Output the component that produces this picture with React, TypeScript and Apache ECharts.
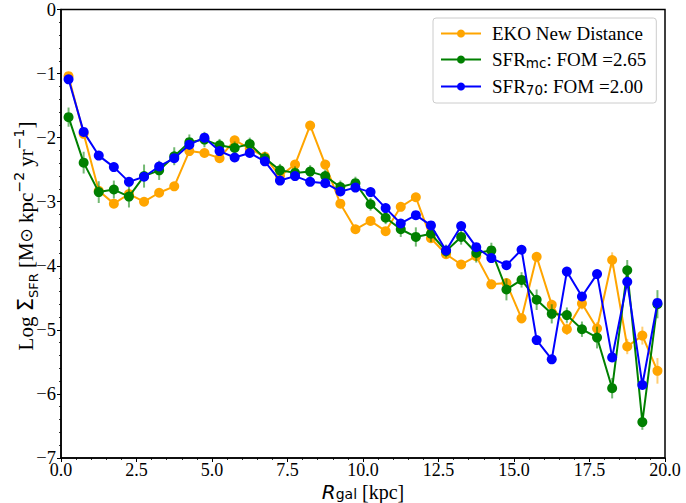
import React, { useEffect, useRef } from "react";
import * as echarts from "echarts";

const radius: number[] = [
  0.25, 0.75, 1.25, 1.75, 2.25, 2.75, 3.25, 3.75, 4.25, 4.75,
  5.25, 5.75, 6.25, 6.75, 7.25, 7.75, 8.25, 8.75, 9.25, 9.75,
  10.25, 10.75, 11.25, 11.75, 12.25, 12.75, 13.25, 13.75, 14.25, 14.75,
  15.25, 15.75, 16.25, 16.75, 17.25, 17.75, 18.25, 18.75, 19.25, 19.75,
];

const ekoNew: number[] = [
  -1.04, -1.94, -2.83, -3.03, -2.88, -3.0, -2.86, -2.76, -2.21, -2.24,
  -2.32, -2.04, -2.17, -2.3, -2.6, -2.42, -1.81, -2.42, -3.03, -3.43,
  -3.3, -3.46, -3.08, -2.93, -3.57, -3.82, -3.98, -3.85, -4.29, -4.27,
  -4.82, -3.86, -4.61, -4.99, -4.59, -4.98, -3.91, -5.26, -5.09, -5.64,
];
const ekoErr: number[] = [
  0.05, 0.05, 0.05, 0.05, 0.05, 0.05, 0.05, 0.05, 0.05, 0.05,
  0.05, 0.05, 0.05, 0.05, 0.05, 0.05, 0.05, 0.05, 0.05, 0.05,
  0.05, 0.05, 0.05, 0.05, 0.06, 0.06, 0.06, 0.06, 0.07, 0.07,
  0.08, 0.07, 0.08, 0.09, 0.09, 0.1, 0.12, 0.12, 0.14, 0.2,
];

const sfrMc: number[] = [
  -1.68, -2.39, -2.85, -2.81, -2.92, -2.6, -2.51, -2.29, -2.07, -2.03,
  -2.12, -2.16, -2.1, -2.32, -2.51, -2.55, -2.53, -2.6, -2.77, -2.71,
  -3.04, -3.25, -3.43, -3.55, -3.5, -3.77, -3.55, -3.8, -3.76, -4.37,
  -4.22, -4.53, -4.75, -4.77, -4.99, -5.12, -5.91, -4.07, -6.44, -4.6,
];
const sfrMcErr: number[] = [
  0.15, 0.17, 0.17, 0.14, 0.17, 0.18, 0.15, 0.14, 0.12, 0.12,
  0.1, 0.1, 0.1, 0.1, 0.1, 0.1, 0.1, 0.1, 0.1, 0.1,
  0.1, 0.1, 0.12, 0.15, 0.13, 0.1, 0.12, 0.15, 0.12, 0.17,
  0.12, 0.16, 0.15, 0.12, 0.12, 0.17, 0.16, 0.16, 0.12, 0.22,
];

const sfr70: number[] = [
  -1.09, -1.91, -2.28, -2.46, -2.69, -2.61, -2.45, -2.32, -2.11, -2.0,
  -2.21, -2.31, -2.24, -2.37, -2.67, -2.6, -2.69, -2.71, -2.84, -2.78,
  -2.85, -3.1, -3.34, -3.21, -3.37, -3.76, -3.38, -3.71, -3.88, -3.99,
  -3.75, -5.16, -5.46, -4.09, -4.48, -4.13, -5.43, -4.25, -5.86, -4.58,
];

const xTicks = { min: 0, max: 20, interval: 2.5 };
const yTicks = { min: -7, max: 0, interval: 1 };

const SERIF = "'Liberation Serif', 'Times New Roman', serif";
const SANS = "'DejaVu Sans', sans-serif";

function errData(vals: number[], errs: number[]) {
  return vals.map((v, i) => [radius[i], v - errs[i], v + errs[i]]);
}

function errSeries(name: string, vals: number[], errs: number[], color: string, z: number) {
  return {
    type: "custom",
    name,
    z,
    silent: true,
    encode: { x: 0, y: [1, 2] },
    data: errData(vals, errs),
    renderItem: (_params: any, api: any) => {
      const x = api.value(0);
      const p1 = api.coord([x, api.value(1)]);
      const p2 = api.coord([x, api.value(2)]);
      return {
        type: "line",
        shape: { x1: p1[0], y1: p1[1], x2: p2[0], y2: p2[1] },
        style: { stroke: color, lineWidth: 2, opacity: 0.55 },
      };
    },
  };
}

function lineSeries(name: string, vals: number[], color: string, z: number) {
  return {
    type: "line",
    name,
    z,
    data: vals.map((v, i) => [radius[i], v]),
    symbol: "circle",
    symbolSize: 10,
    showSymbol: true,
    color,
    lineStyle: { color, width: 2 },
    itemStyle: { color },
  };
}

const fmtMinus = (v: number) => String(v).replace("-", "\u2212");

export default function App() {
  const ref = useRef<HTMLDivElement>(null);
  useEffect(() => {
    if (!ref.current) return;
    const chart = echarts.init(ref.current, undefined, { renderer: "svg" });
    const option: any = {
      animation: false,
      backgroundColor: "#ffffff",
      grid: {
        left: 61, right: 21, top: 8, bottom: 45, containLabel: false,
        show: true, borderColor: "#000", borderWidth: 1.5, backgroundColor: "transparent",
      },
      legend: {
        data: ["EKO New Distance", "SFR_mc", "SFR_70"],
        orient: "vertical",
        left: 433,
        top: 18,
        padding: [6, 10, 6, 7],
        itemGap: 7,
        itemWidth: 40,
        itemHeight: 10,
        backgroundColor: "rgba(255,255,255,0.85)",
        borderColor: "#cccccc",
        borderWidth: 1,
        borderRadius: 3,
        formatter: (name: string) => {
          if (name === "SFR_mc") return "{t|SFR}{sub|mc}{t|: FOM =2.65}";
          if (name === "SFR_70") return "{t|SFR}{sub|70}{t|: FOM =2.00}";
          return "{t|" + name + "}";
        },
        textStyle: {
          fontFamily: SERIF,
          fontSize: 19,
          color: "#000",
          padding: [0, 0, 0, 6],
          rich: {
            t: { fontFamily: SERIF, fontSize: 19, color: "#000", lineHeight: 21, verticalAlign: "middle" },
            sub: { fontFamily: SANS, fontSize: 13.5, color: "#000", lineHeight: 11, verticalAlign: "bottom" },
          },
        },
      },
      xAxis: {
        type: "value",
        min: xTicks.min,
        max: xTicks.max,
        interval: xTicks.interval,
        axisLine: { show: true, onZero: false, lineStyle: { color: "#000", width: 1.5 } },
        axisTick: { show: true, inside: false, length: 4, lineStyle: { color: "#000", width: 1 } },
        minorTick: { show: true, splitNumber: 5, length: 2, lineStyle: { color: "#000", width: 0.8 } },
        splitLine: { show: false },
        axisLabel: {
          fontFamily: SERIF,
          fontSize: 18,
          lineHeight: 16,
          color: "#000",
          margin: 4,
          formatter: (v: number) => v.toFixed(1),
        },
      },
      yAxis: {
        type: "value",
        min: yTicks.min,
        max: yTicks.max,
        interval: yTicks.interval,
        axisLine: { show: true, onZero: false, lineStyle: { color: "#000", width: 1.5 } },
        axisTick: { show: true, inside: false, length: 4, lineStyle: { color: "#000", width: 1 } },
        minorTick: { show: true, splitNumber: 5, length: 2, lineStyle: { color: "#000", width: 0.8 } },
        splitLine: { show: false },
        axisLabel: {
          fontFamily: SERIF,
          fontSize: 18.5,
          color: "#000",
          margin: 5,
          formatter: (v: number) => fmtMinus(v),
        },
      },
      graphic: [
        {
          type: "text",
          x: 26,
          y: 236,
          rotation: Math.PI / 2,
          silent: true,
          style: {
            text: "{t|Log }{s|\u03A3}{sub|SFR}{t| [M}{o|\u2299}{t| kpc}{sup|\u22122}{t| yr}{sup|\u22121}{t|]}",
            align: "center",
            verticalAlign: "middle",
            rich: {
              t: { fontFamily: SERIF, fontSize: 21, fill: "#000", lineHeight: 28, verticalAlign: "middle" },
              s: { fontFamily: SANS, fontSize: 21, fill: "#000", lineHeight: 28, verticalAlign: "middle" },
              o: { fontFamily: SANS, fontSize: 17, fill: "#000", lineHeight: 28, verticalAlign: "middle" },
              sub: { fontFamily: SANS, fontSize: 13, fill: "#000", lineHeight: 13, verticalAlign: "bottom" },
              sup: { fontFamily: SANS, fontSize: 14, fill: "#000", lineHeight: 13, verticalAlign: "top" },
            },
          },
        },
        {
          type: "text",
          x: 363,
          y: 492,
          silent: true,
          style: {
            text: "{r|R}{sub|gal}{t| [kpc]}",
            align: "center",
            verticalAlign: "middle",
            rich: {
              r: { fontFamily: SANS, fontStyle: "italic", fontSize: 20, fill: "#000", lineHeight: 17, verticalAlign: "middle" },
              sub: { fontFamily: SANS, fontSize: 14, fill: "#000", lineHeight: 12, verticalAlign: "bottom" },
              t: { fontFamily: SERIF, fontSize: 20, fill: "#000", lineHeight: 17, verticalAlign: "middle" },
            },
          },
        },
      ],
      series: [
        errSeries("eko_err", ekoNew, ekoErr, "#FFA500", 2),
        lineSeries("EKO New Distance", ekoNew, "#FFA500", 3),
        errSeries("mc_err", sfrMc, sfrMcErr, "#008000", 4),
        lineSeries("SFR_mc", sfrMc, "#008000", 5),
        lineSeries("SFR_70", sfr70, "#0000FF", 6),
      ],
    };
    chart.setOption(option);
    return () => chart.dispose();
  }, []);
  return <div ref={ref} style={{ width: 686, height: 503, position: "absolute", left: 0, top: 0 }} />;
}
